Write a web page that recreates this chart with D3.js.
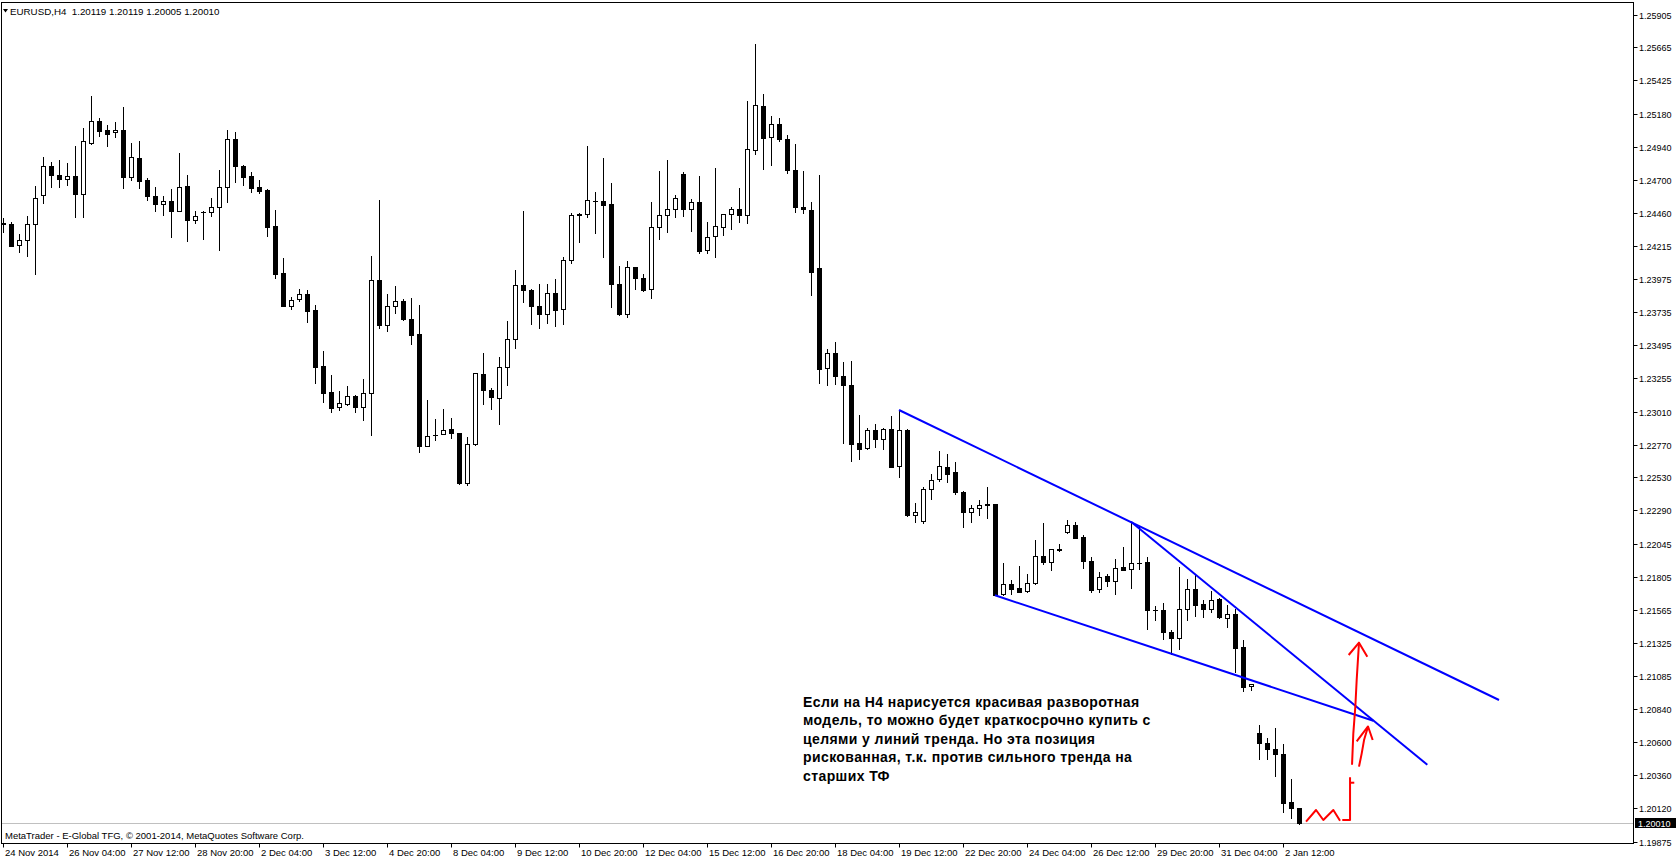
<!DOCTYPE html>
<html><head><meta charset="utf-8">
<script src="https://cdn.jsdelivr.net/npm/d3@7"></script>
<style>html,body{margin:0;padding:0;background:#fff;overflow:hidden}</style>
</head><body>
<svg id="c" width="1676" height="861"></svg>
<script>
// ---- data (EURUSD H4) ----
const symbolTitle = "EURUSD,H4  1.20119 1.20119 1.20005 1.20010";
const copyright = "MetaTrader - E-Global TFG, \u00a9 2001-2014, MetaQuotes Software Corp.";
const open = [1.24382,1.24376,1.24223,1.24259,1.24376,1.24587,1.24799,1.24733,1.24704,1.24726,
1.24595,1.24966,1.25127,1.25061,1.25047,1.25061,1.24723,1.24857,1.24697,1.24580,
1.24526,1.24544,1.24475,1.24653,1.24409,1.24463,1.24463,1.24500,1.24646,1.24995,
1.24799,1.24726,1.24646,1.24624,1.24361,1.24019,1.23782,1.23829,1.23866,1.23749,
1.23341,1.23151,1.23046,1.23068,1.23122,1.23046,1.23144,1.23968,1.23644,1.23778,
1.23815,1.23688,1.23574,1.22762,1.22838,1.22849,1.22884,1.22852,1.22488,1.22772,
1.23282,1.23168,1.23107,1.23333,1.23538,1.23931,1.23897,1.23778,1.23720,1.23873,
1.23756,1.24113,1.24441,1.24449,1.24548,1.24544,1.24522,1.23943,1.23724,1.24062,
1.23982,1.23902,1.24354,1.24441,1.24485,1.24740,1.24485,1.24536,1.24186,1.24288,
1.24354,1.24449,1.24485,1.24441,1.24915,1.25236,1.25010,1.25105,1.24995,1.24770,
1.24500,1.24478,1.24055,1.23326,1.23435,1.23268,1.23204,1.22781,1.22743,1.22876,
1.22809,1.22884,1.22612,1.22876,1.22254,1.22211,1.22444,1.22517,1.22604,1.22568,
1.22422,1.22276,1.22306,1.22335,1.22335,1.21679,1.21752,1.21722,1.21700,1.21759,
1.21956,1.21912,1.22009,1.22131,1.22182,1.22094,1.21921,1.21715,1.21810,1.21773,
1.21875,1.21860,1.21905,1.21914,1.21566,1.21562,1.21401,1.21358,1.21569,1.21715,
1.21606,1.21569,1.21642,1.21504,1.21533,1.21292,1.21008,1.20665,1.20592,1.20549,
1.20512,1.20162,1.20119];
const high = [1.24424,1.24390,1.24303,1.24434,1.24653,1.24866,1.24830,1.24845,1.24823,1.24947,
1.25078,1.25311,1.25149,1.25098,1.25119,1.25231,1.24969,1.24981,1.24711,1.24646,
1.24580,1.24631,1.24893,1.24733,1.24471,1.24475,1.24565,1.24770,1.25061,1.25047,
1.24806,1.24755,1.24697,1.24631,1.24480,1.24128,1.23848,1.23902,1.23897,1.23785,
1.23452,1.23275,1.23158,1.23195,1.23134,1.23246,1.24143,1.24551,1.23866,1.23924,
1.23834,1.23836,1.23785,1.23093,1.22954,1.23027,1.22964,1.22855,1.22827,1.23292,
1.23440,1.23185,1.23411,1.23673,1.24043,1.24471,1.23904,1.23939,1.23941,1.23979,
1.24135,1.24456,1.24456,1.24944,1.24609,1.24859,1.24675,1.24070,1.24106,1.24064,
1.24011,1.24536,1.24762,1.24842,1.24587,1.24755,1.24558,1.24726,1.24390,1.24784,
1.24451,1.24500,1.24638,1.25273,1.25688,1.25324,1.25163,1.25149,1.25025,1.24959,
1.24762,1.24536,1.24733,1.23465,1.23516,1.23370,1.23379,1.22986,1.22889,1.22918,
1.22889,1.22978,1.23022,1.22881,1.22344,1.22459,1.22553,1.22721,1.22699,1.22641,
1.22429,1.22327,1.22364,1.22459,1.22337,1.21905,1.21781,1.21883,1.21824,1.22074,
1.22198,1.22009,1.22043,1.22218,1.22203,1.22109,1.21948,1.21839,1.21824,1.21934,
1.22021,1.22208,1.22171,1.21948,1.21595,1.21617,1.21416,1.21875,1.21788,1.21817,
1.21635,1.21700,1.21654,1.21598,1.21569,1.21343,1.21025,1.20724,1.20629,1.20702,
1.20585,1.20330,1.20119];
const low = [1.24322,1.24218,1.24176,1.24147,1.24016,1.24533,1.24650,1.24650,1.24665,1.24431,
1.24431,1.24959,1.25022,1.24949,1.25014,1.24643,1.24701,1.24643,1.24555,1.24475,
1.24446,1.24285,1.24473,1.24256,1.24387,1.24271,1.24439,1.24191,1.24541,1.24686,
1.24665,1.24611,1.24606,1.24293,1.23987,1.23780,1.23761,1.23815,1.23666,1.23221,
1.23083,1.23010,1.23024,1.23061,1.23010,1.22951,1.22842,1.23622,1.23600,1.23731,
1.23680,1.23505,1.22718,1.22760,1.22806,1.22847,1.22820,1.22480,1.22473,1.22765,
1.23064,1.23027,1.22918,1.23202,1.23472,1.23812,1.23647,1.23618,1.23656,1.23637,
1.23651,1.24092,1.24245,1.24431,1.24315,1.24140,1.23771,1.23713,1.23698,1.23902,
1.23892,1.23841,1.24266,1.24322,1.24431,1.24439,1.24329,1.24164,1.24164,1.24140,
1.24296,1.24344,1.24395,1.24387,1.24886,1.24777,1.24806,1.24981,1.24748,1.24463,
1.24456,1.23858,1.23217,1.23202,1.23210,1.22779,1.22652,1.22667,1.22740,1.22750,
1.22736,1.22604,1.22531,1.22252,1.22203,1.22196,1.22371,1.22502,1.22499,1.22408,
1.22167,1.22203,1.22254,1.22233,1.21671,1.21671,1.21679,1.21696,1.21698,1.21757,
1.21897,1.21854,1.21997,1.22123,1.22087,1.21868,1.21693,1.21693,1.21741,1.21679,
1.21853,1.21727,1.21860,1.21428,1.21491,1.21353,1.21245,1.21278,1.21489,1.21523,
1.21511,1.21547,1.21504,1.21442,1.21110,1.20976,1.20979,1.20478,1.20478,1.20352,
1.20089,1.20050,1.20005];
const close = [1.24380,1.24220,1.24259,1.24376,1.24565,1.24799,1.24733,1.24704,1.24726,1.24595,
1.24981,1.25127,1.25058,1.25036,1.25061,1.24723,1.24864,1.24694,1.24584,1.24526,
1.24544,1.24475,1.24646,1.24409,1.24434,1.24463,1.24500,1.24646,1.24995,1.24799,
1.24723,1.24643,1.24621,1.24358,1.24016,1.23782,1.23826,1.23866,1.23746,1.23338,
1.23148,1.23039,1.23071,1.23122,1.23046,1.23144,1.23968,1.23644,1.23778,1.23815,
1.23688,1.23571,1.22762,1.22835,1.22838,1.22879,1.22852,1.22488,1.22772,1.23290,
1.23168,1.23115,1.23333,1.23538,1.23931,1.23895,1.23778,1.23720,1.23873,1.23749,
1.24113,1.24441,1.24450,1.24551,1.24548,1.24519,1.23943,1.23724,1.24062,1.23982,
1.23897,1.24354,1.24441,1.24485,1.24565,1.24485,1.24536,1.24179,1.24281,1.24361,
1.24449,1.24485,1.24441,1.24923,1.25243,1.25003,1.25105,1.24995,1.24770,1.24500,
1.24485,1.24026,1.23319,1.23435,1.23268,1.23202,1.22776,1.22740,1.22876,1.22809,
1.22881,1.22609,1.22874,1.22254,1.22276,1.22444,1.22510,1.22612,1.22553,1.22422,
1.22276,1.22306,1.22327,1.22330,1.21676,1.21752,1.21719,1.21698,1.21759,1.21956,
1.21912,1.22007,1.21999,1.22182,1.22091,1.21919,1.21712,1.21807,1.21773,1.21872,
1.21855,1.21905,1.21905,1.21566,1.21566,1.21401,1.21358,1.21569,1.21715,1.21603,
1.21569,1.21635,1.21511,1.21533,1.21285,1.21005,1.21023,1.20592,1.20549,1.20512,
1.20155,1.20119,1.20010];
const timeTickIndex = [0,8,16,24,32,40,48,56,64,72,80,88,96,104,112,120,128,136,144,152,160];
const timeTickLabels = ["24 Nov 2014","26 Nov 04:00","27 Nov 12:00","28 Nov 20:00","2 Dec 04:00",
"3 Dec 12:00","4 Dec 20:00","8 Dec 04:00","9 Dec 12:00","10 Dec 20:00","12 Dec 04:00",
"15 Dec 12:00","16 Dec 20:00","18 Dec 04:00","19 Dec 12:00","22 Dec 20:00","24 Dec 04:00",
"26 Dec 12:00","29 Dec 20:00","31 Dec 04:00","2 Jan 12:00"];
const priceTicks = [1.25905,1.25665,1.25425,1.25180,1.24940,1.24700,1.24460,1.24215,1.23975,
1.23735,1.23495,1.23255,1.23010,1.22770,1.22530,1.22290,1.22045,1.21805,1.21565,1.21325,
1.21085,1.20840,1.20600,1.20360,1.20120,1.19875];
const lastPrice = 1.20010;
// trend lines: [bar index, price]
const upperTrend = [[112, 1.23022], [187, 1.20908]];
const lowerTrend = [[124, 1.21671], [171.29, 1.20757]];
const steepTrend = [[141, 1.22208], [178.04, 1.20436]];
// hand-drawn red marks: [bar index, price]
const bigArrowShaft = [[168.63,1.20436],[168.79,1.20665],[169.04,1.20859],[169.21,1.21054],[169.5,1.21326]];
const bigArrowHead = [[168.21,1.21236],[169.5,1.21326],[170.54,1.21224]];
const smallArrowShaft = [[169.5,1.20422],[169.84,1.20519],[170.13,1.20616],[170.63,1.20715]];
const smallArrowHead = [[169.21,1.20607],[170.63,1.20715],[171.21,1.20616]];
const zigzag = [[162.88,1.20021],[164.13,1.20106],[165.04,1.20033],[166.29,1.20106],[167.13,1.20028]];
const stopMark = [[167.41,1.20033],[168.38,1.20033],[168.38,1.20345]];
const stopTick = [[168.38,1.20305],[168.91,1.20305]];
const noteAnchor = [100, 1.20857];
const noteLines = ["Если на H4 нарисуется красивая разворотная",
"модель, то можно будет краткосрочно купить с",
"целями у линий тренда. Но эта позиция",
"рискованная, т.к. против сильного тренда на",
"старших ТФ"];

// ---- drawing ----
const W = 1676, H = 861;
const frame = {left: 1.5, top: 2.5, right: 1633.5, bottom: 843.5};
const svg = d3.select("#c");
svg.append("rect").attr("width", W).attr("height", H).attr("fill", "#fff");

const x = d3.scaleLinear().domain([0, 162]).range([3, 1299]);
const y = d3.scaleLinear().domain([1.19875, 1.25905]).range([841.7, 14.5]);
const font = "'Liberation Sans', Arial, sans-serif";

const bars = open.map((o, i) => ({i, o, h: high[i], l: low[i], c: close[i]}));

// bid line
const yl = Math.round(y(lastPrice)) + 0.5;
svg.append("line").attr("x1", 2).attr("x2", frame.right).attr("y1", yl).attr("y2", yl)
  .attr("stroke", "#C0C0C0").attr("stroke-width", 1);

const g = svg.append("g");
bars.forEach(b => {
  const xi = Math.round(x(b.i));
  const yh = Math.round(y(b.h)), ylo = Math.round(y(b.l));
  g.append("rect").attr("x", xi).attr("y", yh).attr("width", 1).attr("height", ylo - yh + 1).attr("fill", "#000");
  const top = Math.round(y(Math.max(b.o, b.c))), bot = Math.round(y(Math.min(b.o, b.c)));
  if (b.c >= b.o && bot - top >= 2) {
    g.append("rect").attr("x", xi - 1.5).attr("y", top + 0.5).attr("width", 4).attr("height", bot - top)
      .attr("fill", "#fff").attr("stroke", "#000").attr("stroke-width", 1);
  } else {
    g.append("rect").attr("x", xi - 2).attr("y", top).attr("width", 5).attr("height", bot - top + 1).attr("fill", "#000");
  }
});

const line = d3.line().x(d => x(d[0])).y(d => y(d[1]));
[upperTrend, lowerTrend, steepTrend].forEach(t => {
  svg.append("path").attr("d", line(t)).attr("fill", "none").attr("stroke", "#0000FF").attr("stroke-width", 2);
});
[bigArrowShaft, bigArrowHead, smallArrowShaft, smallArrowHead, zigzag, stopMark, stopTick].forEach(t => {
  svg.append("path").attr("d", line(t)).attr("fill", "none").attr("stroke", "#FF0000").attr("stroke-width", 2)
    .attr("stroke-linejoin", "round");
});

const note = svg.append("text").attr("font-family", font).attr("font-weight", "bold").attr("font-size", 14)
  .attr("letter-spacing", 0.4).attr("fill", "#000");
noteLines.forEach((s, k) => {
  note.append("tspan").attr("x", x(noteAnchor[0])).attr("y", y(noteAnchor[1]) + k * 18.5).text(s);
});

// frame
svg.append("rect").attr("x", frame.left).attr("y", frame.top).attr("width", frame.right - frame.left)
  .attr("height", frame.bottom - frame.top).attr("fill", "none").attr("stroke", "#000").attr("stroke-width", 1);

// header
svg.append("path").attr("d", "M3,9 L8,9 L5.5,12.5 Z").attr("fill", "#000");
svg.append("text").attr("x", 10).attr("y", 14.5).attr("font-family", font).attr("font-size", 9.75)
  .attr("fill", "#000").attr("xml:space", "preserve").style("white-space", "pre").text(symbolTitle);
svg.append("text").attr("x", 5).attr("y", 838.5).attr("font-family", font).attr("font-size", 9.5)
  .attr("fill", "#000").text(copyright);

// price axis
const pa = svg.append("g");
priceTicks.forEach(p => {
  const yy = Math.round(y(p)) + 0.5;
  pa.append("line").attr("x1", frame.right).attr("x2", frame.right + 4).attr("y1", yy).attr("y2", yy).attr("stroke", "#000");
  pa.append("text").attr("x", 1639).attr("y", yy + 3.5).attr("font-family", font).attr("font-size", 9)
    .attr("fill", "#000").text(p.toFixed(5));
});
pa.append("rect").attr("x", 1635).attr("y", yl - 5.5).attr("width", 41).attr("height", 10).attr("fill", "#000");
pa.append("text").attr("x", 1638).attr("y", yl + 3.5).attr("font-family", font).attr("font-size", 9)
  .attr("fill", "#fff").text(lastPrice.toFixed(5));

// time axis
const ta = svg.append("g");
timeTickIndex.forEach((idx, k) => {
  const xx = Math.round(x(idx)) + 0.5;
  ta.append("line").attr("x1", xx).attr("x2", xx).attr("y1", frame.bottom).attr("y2", frame.bottom + 4).attr("stroke", "#000");
  ta.append("text").attr("x", xx + 1.5).attr("y", 856).attr("font-family", font).attr("font-size", 9.5)
    .attr("fill", "#000").text(timeTickLabels[k]);
});
</script>
</body></html>
